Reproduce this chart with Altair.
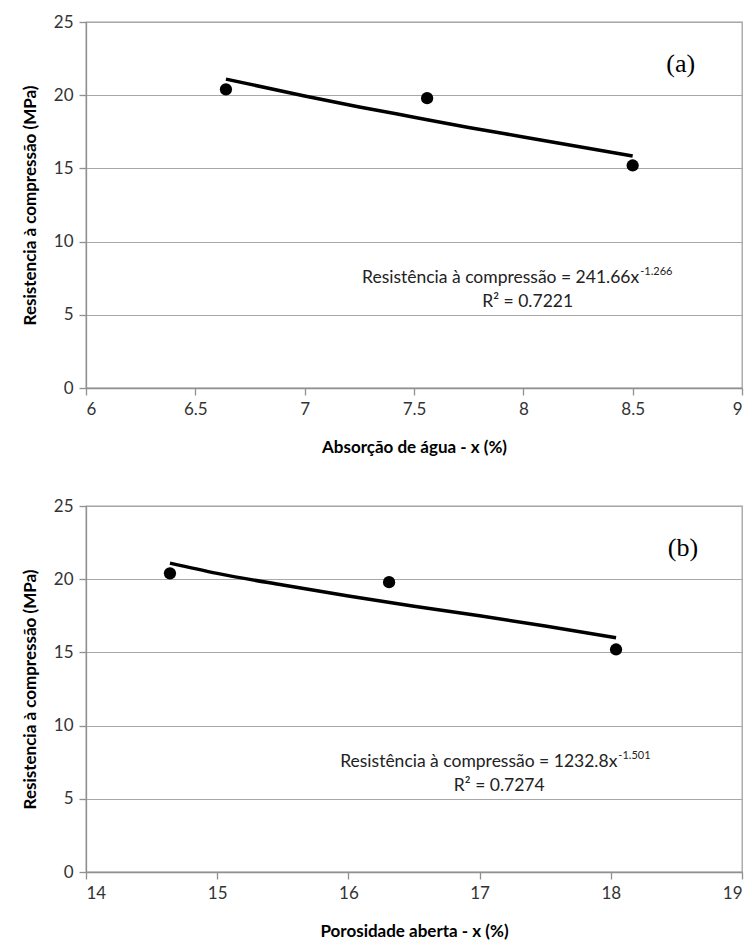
import altair as alt
import pandas as pd

# ---------- data ----------
# panel (a): water absorption
abs_x = [6.64, 7.56, 8.50]
res_a = [20.4, 19.8, 15.2]
trend_a_x = [6.64, 7.0, 7.25, 7.5, 7.75, 8.0, 8.25, 8.5]
trend_a_y = [21.1, 19.95, 19.2, 18.5, 17.8, 17.15, 16.5, 15.85]

# panel (b): open porosity
por_x = [14.64, 16.31, 18.04]
res_b = [20.4, 19.8, 15.2]
trend_b_x = [14.64, 15.0, 15.5, 16.0, 16.5, 17.0, 17.5, 18.04]
trend_b_y = [21.1, 20.4, 19.6, 18.85, 18.15, 17.5, 16.8, 16.0]

x_ticks_a = [6, 6.5, 7, 7.5, 8, 8.5, 9]
x_ticks_b = [14, 15, 16, 17, 18, 19]
y_ticks = [0, 5, 10, 15, 20, 25]

y_title = "Resistencia à compressão (MPa)"
x_title_a = "Absorção de água - x (%)"
x_title_b = "Porosidade aberta - x (%)"
eq_a = "Resistência à compressão = 241.66x"
eq_a_sup = "-1.266"
r2_a = "R² = 0.7221"
eq_b = "Resistência à compressão = 1232.8x"
eq_b_sup = "-1.501"
r2_b = "R² = 0.7274"

FONT = "Lato"
W, H = 656, 366


def panel(px, py, tx, ty, dom, ticks, xtitle, eq, sup, r2, tag, eq_end, r2_x, tag_x):
    pts = pd.DataFrame({"x": px, "y": py})
    tr = pd.DataFrame({"x": tx, "y": ty})
    xs = alt.Scale(domain=dom, nice=False, zero=False)
    ys = alt.Scale(domain=[0, 25], nice=False)
    xax = alt.Axis(values=ticks, format="~g", title=xtitle, grid=False)
    yax = alt.Axis(values=y_ticks, title=y_title, grid=True)

    line = alt.Chart(tr).mark_line(
        color="black", strokeWidth=3.5, interpolate="monotone"
    ).encode(
        x=alt.X("x:Q", scale=xs, axis=xax),
        y=alt.Y("y:Q", scale=ys, axis=yax),
    )
    dots = alt.Chart(pts).mark_circle(color="black", size=150, opacity=1).encode(
        x=alt.X("x:Q", scale=xs), y=alt.Y("y:Q", scale=ys)
    )
    ann = pd.DataFrame({
        "x": [eq_end, eq_end, r2_x, tag_x],
        "y": [7.5, 7.5, 5.85, 22.1],
        "t": [eq, sup, r2, tag],
    })
    t_eq = alt.Chart(ann.iloc[[0]]).mark_text(
        align="right", baseline="middle", font=FONT, fontSize=17.5, color="#222"
    ).encode(x=alt.X("x:Q", scale=xs), y=alt.Y("y:Q", scale=ys), text="t:N")
    t_sup = alt.Chart(ann.iloc[[1]]).mark_text(
        align="left", baseline="middle", font=FONT, fontSize=11, color="#222", dy=-6, dx=1
    ).encode(x=alt.X("x:Q", scale=xs), y=alt.Y("y:Q", scale=ys), text="t:N")
    t_r2 = alt.Chart(ann.iloc[[2]]).mark_text(
        align="center", baseline="middle", font=FONT, fontSize=17.5, color="#222"
    ).encode(x=alt.X("x:Q", scale=xs), y=alt.Y("y:Q", scale=ys), text="t:N")
    t_tag = alt.Chart(ann.iloc[[3]]).mark_text(
        align="center", baseline="middle", font="Liberation Serif", fontSize=26, color="black"
    ).encode(x=alt.X("x:Q", scale=xs), y=alt.Y("y:Q", scale=ys), text="t:N")
    return alt.layer(line, dots, t_eq, t_sup, t_r2, t_tag).properties(width=W, height=H)


pa = panel(abs_x, res_a, trend_a_x, trend_a_y, [6, 9], x_ticks_a, x_title_a,
           eq_a, eq_a_sup, r2_a, "(a)", 8.53, 8.02, 8.72)
pb = panel(por_x, res_b, trend_b_x, trend_b_y, [14, 19], x_ticks_b, x_title_b,
           eq_b, eq_b_sup, r2_b, "(b)", 18.05, 17.15, 18.55)

chart = alt.vconcat(pa, pb, spacing=40).properties(
    padding={"left": 20, "top": 12, "right": 5, "bottom": 5}
).configure_view(
    stroke="#a0a0a0", strokeWidth=1.3
).configure_axis(
    labelFont=FONT, labelFontSize=17, labelColor="#333",
    titleFont=FONT, titleFontSize=17, titleFontWeight="bold", titleColor="black",
    domainColor="#909090", domainWidth=1.3, tickColor="#909090", tickSize=7, tickWidth=1.3,
    gridColor="#a8a8a8", gridWidth=1.2, labelPadding=6,
).configure_axisY(
    titlePadding=14
).configure_axisX(
    titlePadding=22
)

chart.save("out.html", embed_options={"renderer": "svg", "actions": False})
